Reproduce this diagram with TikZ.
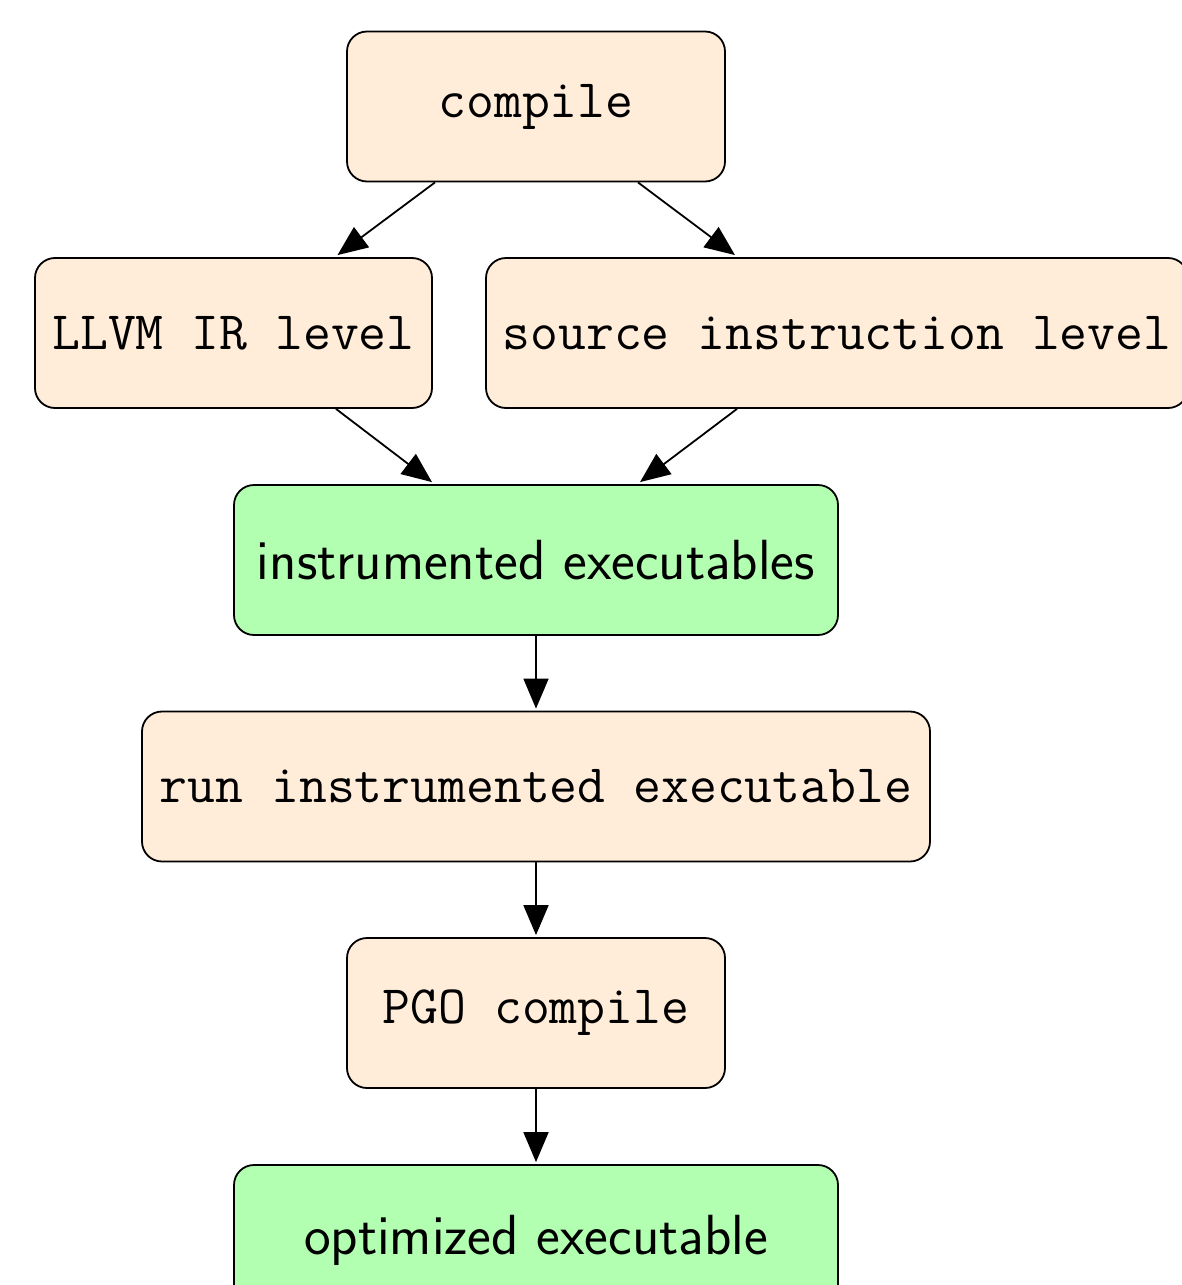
\documentclass[tikz,border=0pt]{standalone}
\usetikzlibrary{arrows.meta}
\begin{document}
\begin{tikzpicture}[x=0.5pt,y=-0.5pt,
  box/.style={draw=black,line width=0.9pt,rounded corners=10pt,minimum height=75pt,inner sep=0pt,font=\fontsize{27.05}{31}\selectfont\ttfamily},
  stage/.style={box,fill=orange!15},
  result/.style={box,fill=green!30,font=\fontsize{28.3}{32}\selectfont\sffamily},
  arr/.style={line width=0.9pt,-{Triangle[length=15pt,width=12.5pt]}}]
\useasboundingbox (0,0) rectangle (1182,1285);
\node[stage,minimum width=189pt] (compile) at (536,106.5) {compile};
\node[stage,minimum width=198.5pt] (llvm) at (233.5,333) {LLVM IR level};
\node[stage,minimum width=351pt] (source) at (837,333) {source instruction level};
\node[result,minimum width=302pt] (instr) at (536,560) {instrumented executables};
\node[stage,minimum width=394pt] (run) at (536,786.5) {run instrumented executable};
\node[stage,minimum width=189pt] (pgo) at (536,1013) {PGO compile};
\node[result,minimum width=302pt] (opt) at (536,1240) {optimized executable};
\draw[arr] ([xshift=-50.5pt]compile.south) -- ([xshift=52pt,yshift=1pt]llvm.north);
\draw[arr] ([xshift=51pt]compile.south) -- ([xshift=-51pt,yshift=1pt]source.north);
\draw[arr] ([xshift=51.25pt]llvm.south) -- ([xshift=-52pt,yshift=1pt]instr.north);
\draw[arr] ([xshift=-50pt]source.south) -- ([xshift=52pt,yshift=1pt]instr.north);
\draw[arr] (instr.south) -- ([yshift=1pt]run.north);
\draw[arr] (run.south) -- ([yshift=1pt]pgo.north);
\draw[arr] (pgo.south) -- ([yshift=1pt]opt.north);
\end{tikzpicture}
\end{document}
